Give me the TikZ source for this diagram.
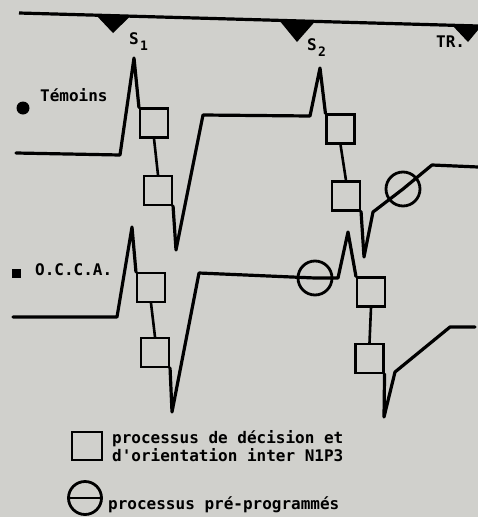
\documentclass[tikz,border=0pt]{standalone}
\usepackage{fontspec}
\setmonofont{DejaVu Sans Mono}
\definecolor{bg}{RGB}{208,208,204}
\begin{document}
\begin{tikzpicture}[x=1pt,y=-1pt,
  wave/.style={line width=3.2pt, line join=round, line cap=round},
  conn/.style={line width=2.6pt},
  pbox/.style={draw, line width=2.1pt, fill=bg, minimum width=28pt, minimum height=29pt, inner sep=0pt},
  pcirc/.style={draw, circle, line width=2.8pt, minimum size=34pt, inner sep=0pt},
  lbl/.style={font=\ttfamily\bfseries\fontsize{16}{19}\selectfont, inner sep=0pt, anchor=base west},
  sub/.style={font=\ttfamily\bfseries\fontsize{13}{15}\selectfont, inner sep=0pt, anchor=base west}]
\fill[bg] (0,0) rectangle (478,517);
\useasboundingbox (0,0) rectangle (478,517);
% top line with markers
\draw[line width=3.2pt] (19,13) -- (478,26);
\fill (96,15) -- (130,16.5) -- (113,33) -- cycle;
\fill (279,20) -- (315,21.5) -- (297,42) -- cycle;
\fill (452,25) -- (478,26) -- (478,30) -- (468,42) -- cycle;
\node[lbl] (s1) at (129,44) {S};
\node[sub] (s1i) at (140,50) {1};
\node[lbl] (s2) at (307,50) {S};
\node[sub] (s2i) at (318,56) {2};
\node[lbl] (tr) at (436,47) {TR.};
% labels
\fill (23,108) circle (6.5);
\node[lbl] (tem) at (40,101) {Témoins};
\fill (12,268.5) rectangle (21,277.5);
\node[lbl] (occa) at (35,275) {O.C.C.A.};
% boxes and circles
\node[pbox] (b1) at (154,123) {};
\node[pbox] (b2) at (158,190.5) {};
\node[pbox] (b3) at (340.5,129) {};
\node[pbox] (b4) at (346,196) {};
\node[pbox] (b5) at (151,287.5) {};
\node[pbox] (b6) at (155,352.5) {};
\node[pbox] (b7) at (371,292) {};
\node[pbox] (b8) at (369.5,358.5) {};
\node[pcirc] (c1) at (403,189) {};
\node[pcirc] (c2) at (315,278) {};
% Temoins wave
\draw[wave] (16,153) -- (120,155) -- (134,58) -- (b1.north west);
\draw[conn] (b1.south) -- (b2.north);
\draw[wave] (b2.south east) -- (176,250) -- (203,115) -- (310,116) -- (320,68) -- (b3.north west);
\draw[conn] (b3.south) -- (b4.north);
\draw[wave] (b4.south east) -- (364,257) -- (373,212) -- (c1.center) -- (432,165) -- (478,167);
% OCCA wave
\draw[wave] (13,317) -- (117,317) -- (132,227) -- (b5.north west);
\draw[conn] (b5.south) -- (b6.north);
\draw[wave] (b6.south east) -- (172,412) -- (199,273) -- (c2.center) -- (338,278) -- (348,232) -- (b7.north west);
\draw[conn] (b7.south) -- (b8.north);
\draw[wave] (b8.south east) -- (384,417) -- (395,372) -- (450,327) -- (475,327);
% legend
\node[pbox, minimum width=30pt, minimum height=28pt] (lb) at (87,446) {};
\node[lbl] (t1) at (112,443) {processus de décision et};
\node[lbl] (t2) at (112,461) {d'orientation inter N1P3};
\node[pcirc, minimum size=33pt] (lc) at (85,498) {};
\draw[line width=2.8pt] (lc.west) -- (lc.east);
\node[lbl] (t3) at (108,509) {processus pré-programmés};
\end{tikzpicture}
\end{document}
